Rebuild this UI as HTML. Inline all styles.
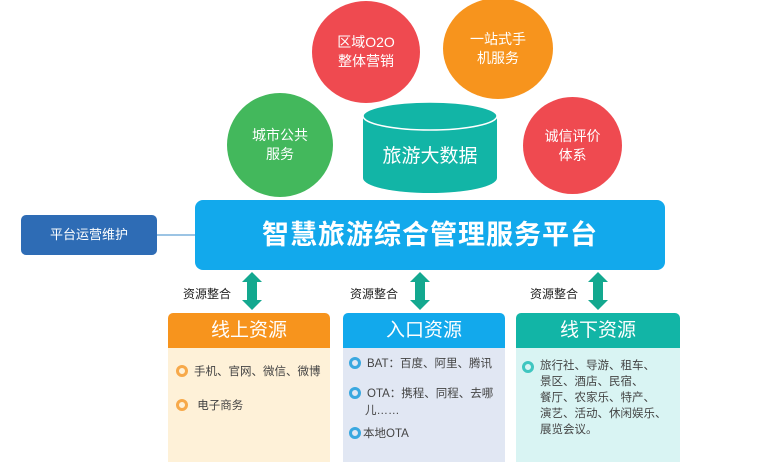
<!DOCTYPE html>
<html><head><meta charset="utf-8"><style>
body{margin:0;width:780px;height:470px;background:#fff;position:relative;overflow:hidden;font-family:"Liberation Sans","Noto Sans CJK SC",sans-serif}
.a{position:absolute}
.c{position:absolute;border-radius:50%;color:#fff;display:flex;align-items:center;justify-content:center;text-align:center;font-size:14px;line-height:19px}
.lbl{position:absolute;font-size:12px;color:#222}
.hd{position:absolute;height:35px;color:#fff;font-size:19px;text-align:center;line-height:35px;border-radius:5px 5px 0 0}
.bd{position:absolute;font-size:11.5px;color:#444;line-height:17px}
.dot{display:inline-block;width:6px;height:6px;border-radius:50%;border:3px solid;margin-right:6px;vertical-align:-2px}
</style></head><body>
<div class="c" style="left:227px;top:93px;width:106px;height:104px;background:#43b85c">城市公共<br>服务</div>
<div class="c" style="left:312px;top:1px;width:108px;height:102px;background:#ef4a50">区域O2O<br>整体营销</div>
<div class="c" style="left:443px;top:-2px;width:110px;height:101px;background:#f7941d">一站式手<br>机服务</div>
<div class="c" style="left:523px;top:97px;width:99px;height:97px;background:#ef4a50">诚信评价<br>体系</div>
<svg class="a" style="left:360px;top:100px" width="140" height="95">
<path d="M3 16 V78 A67 15 0 0 0 137 78 V16 Z" fill="#12b5a6"/>
<ellipse cx="70" cy="16" rx="67" ry="14" fill="#12b5a6" stroke="#fff" stroke-width="1.5"/>
<text x="70" y="62" fill="#fff" font-size="19" text-anchor="middle" font-family="Liberation Sans,Noto Sans CJK SC,sans-serif">旅游大数据</text>
</svg>
<div class="a" style="left:157px;top:234px;width:40px;height:2px;background:#9cc4e4"></div>
<div class="a" style="left:21px;top:215px;width:136px;height:40px;background:#2e6cb5;border-radius:5px;color:#fff;font-size:13px;text-align:center;line-height:40px">平台运营维护</div>
<div class="a" style="left:195px;top:200px;width:470px;height:70px;background:#12a9ec;border-radius:8px;color:#fff;font-size:27px;font-weight:bold;text-align:center;line-height:70px;letter-spacing:1px">智慧旅游综合管理服务平台</div>
<svg class="a" style="left:0;top:270px" width="780" height="44">
<g fill="#13a88f">
<path d="M252 2 l10 10 h-5 v18 h5 l-10 10 l-10 -10 h5 v-18 h-5z"/>
<path d="M420 2 l10 10 h-5 v18 h5 l-10 10 l-10 -10 h5 v-18 h-5z"/>
<path d="M598 2 l10 10 h-5 v18 h5 l-10 10 l-10 -10 h5 v-18 h-5z"/>
</g></svg>
<div class="lbl" style="left:183px;top:285px">资源整合</div>
<div class="lbl" style="left:350px;top:285px">资源整合</div>
<div class="lbl" style="left:530px;top:285px">资源整合</div>
<div class="hd" style="left:168px;top:313px;width:162px;background:#f7941d">线上资源</div>
<div class="bd" style="left:168px;top:348px;width:162px;height:114px;background:#fef1d8">
<div style="position:absolute;left:8px;top:16px"><span class="dot" style="border-color:#f7a94a"></span>手机、官网、微信、微博</div>
<div style="position:absolute;left:8px;top:50px"><span class="dot" style="border-color:#f7a94a"></span> 电子商务</div></div>
<div class="hd" style="left:343px;top:313px;width:162px;background:#12a9ec">入口资源</div>
<div class="bd" style="left:343px;top:348px;width:162px;height:114px;background:#e1e7f3">
<div style="position:absolute;left:6px;top:8px"><span class="dot" style="border-color:#3aa8e0"></span>BAT：百度、阿里、腾讯</div>
<div style="position:absolute;left:6px;top:38px;width:156px"><span class="dot" style="border-color:#3aa8e0"></span>OTA：携程、同程、去哪<br>&nbsp;&nbsp;&nbsp;&nbsp;&nbsp;儿……</div>
<div style="position:absolute;left:6px;top:78px"><span class="dot" style="border-color:#3aa8e0;margin-right:2px"></span>本地OTA</div></div>
<div class="hd" style="left:516px;top:313px;width:164px;background:#12b5a6">线下资源</div>
<div class="bd" style="left:516px;top:348px;width:164px;height:114px;background:#d9f4f3">
<div style="position:absolute;left:6px;top:10px;width:156px;line-height:16px;display:flex"><span class="dot" style="border-color:#3fc6c0;flex:none;margin-top:3px"></span><span>旅行社、导游、租车、<br>景区、酒店、民宿、<br>餐厅、农家乐、特产、<br>演艺、活动、休闲娱乐、<br>展览会议。</span></div></div>
</body></html>
